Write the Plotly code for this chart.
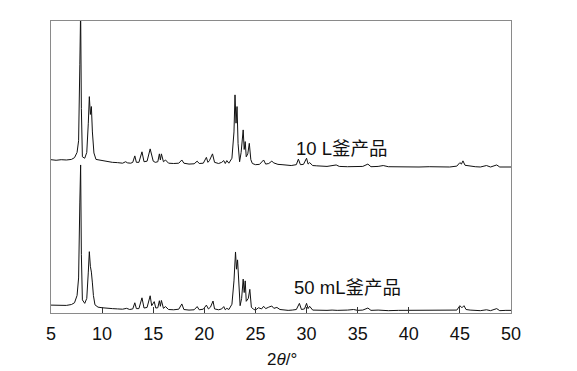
import plotly.graph_objects as go

# 2-theta positions and intensities
two_theta_10L = [5.0, 5.5, 6.0, 6.5, 7.0, 7.3, 7.55, 7.7, 7.82, 7.9, 7.97, 8.07, 8.3, 8.5, 8.65, 8.75, 8.85, 8.95, 9.05, 9.1,
                 9.2, 9.4, 9.7, 10.0, 10.3, 10.6, 11.0, 11.5, 12.0, 12.3, 12.5, 12.8, 13.0, 13.2, 13.35, 13.6, 13.9, 14.1,
                 14.4, 14.7, 14.85, 15.0, 15.2, 15.45, 15.6, 15.7, 15.8, 16.0, 16.2, 16.5, 17.0, 17.5, 17.8, 18.0, 18.5,
                 19.0, 19.3, 19.5, 19.9, 20.2, 20.35, 20.5, 20.8, 21.0, 21.4, 21.7, 21.9, 22.05, 22.2, 22.4, 22.7, 22.9,
                 23.0, 23.1, 23.2, 23.3, 23.45, 23.6, 23.8, 23.9, 24.0, 24.1, 24.25, 24.4, 24.55, 24.7, 25.0, 25.4, 25.8,
                 26.0, 26.3, 26.6, 26.8, 27.2, 27.6, 28.0, 28.5, 29.0, 29.2, 29.4, 29.7, 30.0, 30.15, 30.3, 30.6, 31.0,
                 31.5, 32.0, 32.9, 33.2, 34.0, 35.0, 35.5, 36.0, 36.3, 37.0, 37.5, 38.0, 39.0, 40.0, 41.0, 42.0, 43.0,
                 44.0, 44.7, 45.0, 45.15, 45.3, 45.5, 46.0, 46.5, 47.0, 47.6, 48.0, 48.6, 48.9, 49.5, 50.0]
intensity_10L = [2.5, 2.3, 2.5, 2.4, 2.6, 3.2, 5, 9, 35, 54, 20, 3.5, 3.0, 5, 15, 24.1, 18, 20.7, 12, 9.2,
                 4.8, 2.6, 2.4, 2.2, 2.0, 1.8, 1.6, 1.5, 1.3, 1.8, 1.4, 1.3, 1.6, 3.8, 1.6, 1.6, 5.2, 1.8,
                 2.0, 6.2, 4.5, 2.0, 1.6, 1.8, 4.5, 2.4, 4.5, 1.8, 2.4, 1.3, 1.2, 1.3, 2.4, 1.3, 1.0,
                 1.1, 2.0, 1.2, 1.3, 3.3, 1.6, 2.2, 4.5, 1.6, 1.2, 1.6, 2.2, 1.2, 2.2, 1.3, 3.0, 12,
                 24.7, 15, 20.7, 8, 1.8, 5, 12.7, 6, 8.7, 3.5, 4.5, 8.1, 2.5, 1.2, 0.8, 0.9, 2.4,
                 1.0, 1.2, 2.0, 1.4, 0.9, 0.8, 0.6, 0.5, 0.8, 2.7, 0.8, 0.9, 3.0, 1.0, 1.5, 0.5, 0.4,
                 0.3, 0.2, 0.7, 0.2, 0.1, 0.2, 0.2, 1.0, 0.1, 0.2, 0.5, 0.1, 0.0, 0.1, 0.0, 0.1, 0.0,
                 0.0, 0.3, 1.5, 1.0, 2.1, 0.6, 0.3, 0.1, 0.0, 0.5, 0.0, 0.7, 0.0, 0.0, 0.0]

two_theta_50mL = [5.0, 5.5, 6.0, 6.5, 7.0, 7.3, 7.55, 7.7, 7.82, 7.9, 7.97, 8.07, 8.3, 8.5, 8.65, 8.75, 8.85, 8.95, 9.05, 9.15,
                  9.3, 9.6, 10.0, 10.4, 11.0, 11.5, 12.0, 12.4, 12.7, 13.0, 13.2, 13.35, 13.6, 13.9, 14.1, 14.4, 14.7,
                  14.85, 15.1, 15.25, 15.45, 15.6, 15.7, 15.8, 16.0, 16.2, 16.5, 17.0, 17.5, 17.8, 18.0, 18.5, 19.0,
                  19.3, 19.5, 19.9, 20.2, 20.4, 20.6, 20.85, 21.0, 21.4, 21.7, 21.9, 22.05, 22.2, 22.4, 22.7, 22.9,
                  23.05, 23.15, 23.25, 23.35, 23.5, 23.65, 23.8, 23.9, 24.0, 24.1, 24.3, 24.45, 24.6, 24.8, 25.0, 25.3,
                  25.6, 25.8, 26.0, 26.3, 26.6, 26.8, 27.1, 27.4, 27.8, 28.2, 28.6, 29.0, 29.3, 29.5, 29.8, 30.0, 30.15,
                  30.3, 30.6, 31.0, 31.5, 32.0, 32.5, 33.0, 34.0, 34.6, 35.0, 35.5, 36.0, 36.3, 37.0, 38.0, 39.0, 40.0,
                  41.0, 42.0, 43.0, 44.0, 44.7, 45.0, 45.2, 45.4, 45.6, 46.0, 47.0, 47.6, 48.0, 48.6, 48.9, 49.5, 50.0]
intensity_50mL = [2.7, 2.6, 2.7, 2.6, 2.9, 3.5, 6, 12, 38, 50.7, 20, 4.5, 3.3, 5, 14, 21, 16, 14, 10.3, 6,
                  2.8, 2.0, 1.8, 1.6, 1.5, 1.4, 1.3, 1.6, 1.2, 1.4, 3.5, 1.5, 1.5, 5.2, 1.7, 1.9, 5.9,
                  2.5, 3.9, 1.7, 1.8, 4.2, 2.3, 4.3, 1.6, 2.2, 1.2, 1.1, 1.3, 3.1, 1.2, 1.0, 1.1,
                  2.2, 1.1, 1.3, 2.7, 1.4, 2.0, 4.1, 1.4, 1.1, 1.4, 2.2, 1.1, 1.6, 1.2, 3.0, 11,
                  20.9, 15, 18.2, 10, 2.5, 5, 11.6, 7, 11, 4, 5, 8.1, 2.0, 1.3, 1.0, 1.8,
                  1.4, 2.3, 1.5, 2.0, 2.4, 1.6, 1.9, 1.2, 1.0, 0.9, 1.0, 1.2, 3.3, 1.2, 1.4, 3.3, 1.5,
                  2.3, 1.0, 0.9, 1.0, 0.9, 1.0, 0.9, 1.0, 1.2, 0.9, 1.0, 1.7, 0.9, 1.0, 0.8, 0.9, 0.9,
                  0.8, 0.9, 0.8, 0.9, 1.0, 2.5, 1.8, 2.5, 1.2, 1.0, 0.8, 1.1, 0.8, 1.5, 0.8, 0.9, 0.9]

offset_10L = 50
label_10L = "10 L釜产品"
label_50mL = "50 mL釜产品"
x_ticks = [5, 10, 15, 20, 25, 30, 35, 40, 45, 50]

fig = go.Figure()
fig.add_trace(go.Scatter(x=two_theta_10L, y=[v + offset_10L for v in intensity_10L], mode="lines",
                         line=dict(color="#111111", width=1), showlegend=False))
fig.add_trace(go.Scatter(x=two_theta_50mL, y=intensity_50mL, mode="lines",
                         line=dict(color="#111111", width=1), showlegend=False))

fig.add_annotation(x=28.8, y=56.5, text=label_10L, showarrow=False, xanchor="left", yanchor="middle",
                   font=dict(family="Liberation Sans, Noto Sans CJK SC", size=18.5, color="#111111"))
fig.add_annotation(x=28.6, y=8.6, text=label_50mL, showarrow=False, xanchor="left", yanchor="middle",
                   font=dict(family="Liberation Sans, Noto Sans CJK SC", size=18.5, color="#111111"))
fig.add_annotation(x=0.502, y=-0.158, xref="paper", yref="paper", text="2<i>θ</i>/°", showarrow=False,
                   xanchor="center", yanchor="middle",
                   font=dict(family="Liberation Sans, DejaVu Sans", size=17, color="#111111"))

fig.update_layout(
    width=577, height=371,
    margin=dict(l=43, r=74, t=13, b=66),
    paper_bgcolor="white", plot_bgcolor="white",
    font=dict(family="Liberation Sans, Noto Sans CJK SC", size=18, color="#111111"),
)
fig.update_xaxes(range=[5, 50], tickvals=x_ticks, ticktext=[str(t) for t in x_ticks],
                 showgrid=False, zeroline=False, showline=True, mirror=True,
                 linecolor="#8a8a8a", linewidth=1, ticks="inside", ticklen=6, tickcolor="#333333",
                 ticklabelstandoff=4,
                 tickfont=dict(size=18, color="#111111"))
fig.update_yaxes(range=[0, 100], showgrid=False, zeroline=False, showline=True, mirror=True,
                 linecolor="#8a8a8a", linewidth=1, showticklabels=False, ticks="")

fig.write_html("out.html")
